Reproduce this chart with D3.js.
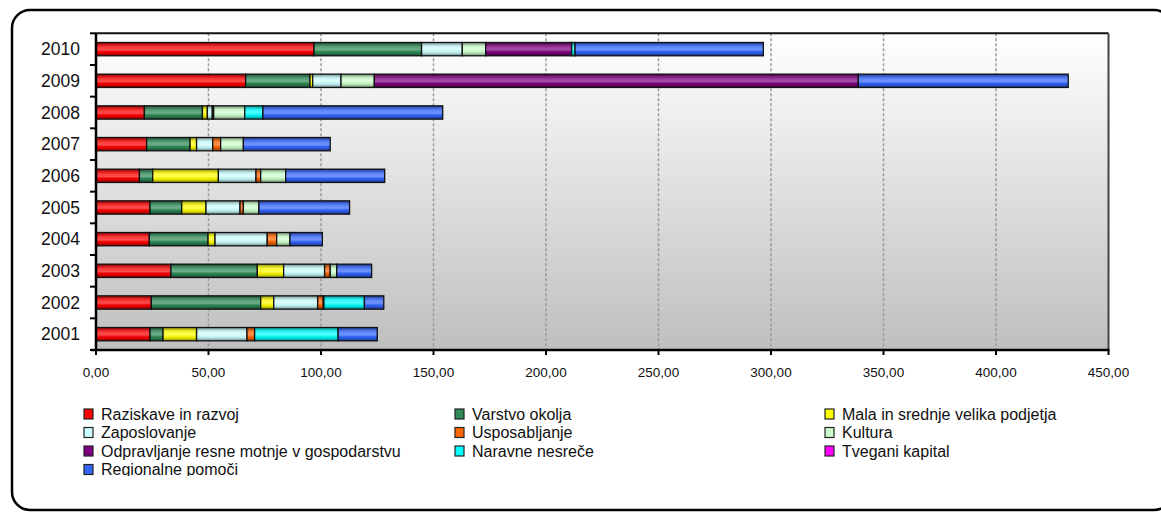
<!DOCTYPE html>
<html><head><meta charset="utf-8">
<script src="https://cdn.jsdelivr.net/npm/d3@7"></script>
<style>
html,body{margin:0;padding:0;background:#fff;}
svg{display:block;font-family:"Liberation Sans",Arial,sans-serif;}
</style></head>
<body>
<svg id="c" width="1161" height="512"></svg>
<script>
const years = ["2001","2002","2003","2004","2005","2006","2007","2008","2009","2010"];
const seriesNames = ["Raziskave in razvoj","Varstvo okolja","Mala in srednje velika podjetja","Zaposlovanje","Usposabljanje","Kultura","Odpravljanje resne motnje v gospodarstvu","Naravne nesreče","Tvegani kapital","Regionalne pomoči"];
const raziskave     = [24.0, 24.6, 33.3, 23.7, 24.0, 19.3, 22.5, 21.5, 66.5, 96.9];
const varstvo       = [5.8, 48.6, 38.4, 26.1, 14.1, 5.9, 19.3, 25.8, 28.6, 47.8];
const mala          = [14.9, 5.8, 11.7, 3.1, 10.8, 29.2, 2.9, 2.2, 1.2, 0];
const zaposlovanje  = [22.4, 19.5, 18.2, 23.2, 15.1, 16.7, 7.2, 2.2, 12.6, 18.1];
const usposabljanje = [3.4, 2.5, 2.5, 4.2, 1.5, 2.1, 3.5, 0.6, 0, 0];
const kultura       = [0, 0.3, 2.9, 5.9, 6.9, 11.1, 10.1, 13.8, 14.8, 10.4];
const odpravljanje  = [0, 0, 0, 0, 0, 0, 0, 0, 215.1, 38.2];
const naravne       = [37.1, 18.0, 0, 0, 0, 0, 0, 8.1, 0, 1.5];
const tvegani       = [0, 0, 0, 0, 0, 0, 0, 0, 0, 0];
const regionalne    = [17.4, 8.6, 15.5, 14.4, 40.3, 44.0, 38.6, 79.9, 93.3, 83.7];
const xTicks = [0,50,100,150,200,250,300,350,400,450];
const colors = ["#ff0000","#2e8b57","#ffff00","#ccffff","#ff6600","#ccffcc","#800080","#00ffff","#ff00ff","#3366ff"];

const seriesValues = [raziskave,varstvo,mala,zaposlovanje,usposabljanje,kultura,odpravljanje,naravne,tvegani,regionalne];
const table = years.map((yr,i)=>{const o={year:yr}; seriesNames.forEach((n,k)=>o[n]=seriesValues[k][i]); return o;});

const svg = d3.select("#c");
const defs = svg.append("defs");
const pL=96, pR=1108.5, pT=33.3, pB=350;

// outer frame
svg.append("rect").attr("x",12).attr("y",10).attr("width",1160).attr("height",500)
  .attr("rx",18).attr("fill","#fff").attr("stroke","#000").attr("stroke-width",2.5);

// plot bg gradient
const bg = defs.append("linearGradient").attr("id","bg").attr("x1",0).attr("y1",0).attr("x2",0).attr("y2",1);
bg.append("stop").attr("offset","0%").attr("stop-color","#ffffff");
bg.append("stop").attr("offset","100%").attr("stop-color","#bfbfbf");
svg.append("rect").attr("x",pL).attr("y",pT).attr("width",pR-pL).attr("height",pB-pT).attr("fill","url(#bg)");

const x = d3.scaleLinear().domain([0,450]).range([pL,pR]);
const y = d3.scaleBand().domain(years.slice().reverse()).range([pT,pB]).paddingInner(0.58).paddingOuter(0.29);

// grid
svg.append("g").selectAll("line").data(xTicks.filter(t=>t>0&&t<450)).join("line")
  .attr("x1",d=>x(d)).attr("x2",d=>x(d)).attr("y1",pT).attr("y2",pB)
  .attr("stroke","#9a9a9a").attr("stroke-width",1.5).attr("stroke-dasharray","3,2");

// borders top/right
svg.append("line").attr("x1",pL).attr("x2",pR).attr("y1",pT).attr("y2",pT).attr("stroke","#111").attr("stroke-width",2);
svg.append("line").attr("x1",pR).attr("x2",pR).attr("y1",pT).attr("y2",pB).attr("stroke","#444").attr("stroke-width",2);

// bar shading gradient overlay
const sh = defs.append("linearGradient").attr("id","shade").attr("x1",0).attr("y1",0).attr("x2",0).attr("y2",1);
[[0,0.45],[0.3,0.05],[0.5,0],[0.75,0.08],[1,0.45]].forEach(([o,a])=>sh.append("stop").attr("offset",o).attr("stop-color","#000").attr("stop-opacity",a));
const hl = defs.append("linearGradient").attr("id","hl").attr("x1",0).attr("y1",0).attr("x2",0).attr("y2",1);
[[0,0],[0.4,0.25],[0.55,0.3],[0.7,0]].forEach(([o,a])=>hl.append("stop").attr("offset",o).attr("stop-color","#fff").attr("stop-opacity",a));

const stack = d3.stack().keys(seriesNames);
const stacked = stack(table);
const bars = svg.append("g");
stacked.forEach((s,k)=>{
  const g = bars.append("g");
  const d = s.filter(p=>p[1]-p[0]>0);
  ["f","s","h"].forEach(cls=>{
    const r = g.selectAll("rect."+cls).data(d).join("rect").attr("class",cls)
      .attr("x",p=>x(p[0])).attr("width",p=>x(p[1])-x(p[0]))
      .attr("y",p=>y(p.data.year)).attr("height",y.bandwidth());
    if(cls==="f") r.attr("fill",colors[k]);
    if(cls==="s") r.attr("fill","url(#shade)");
    if(cls==="h") r.attr("fill","url(#hl)").attr("stroke","#111").attr("stroke-width",1.3);
  });
});

// left axis
const step = y.step();
svg.append("line").attr("x1",pL).attr("x2",pL).attr("y1",pT).attr("y2",pB+1).attr("stroke","#000").attr("stroke-width",2.5);
const bounds = d3.range(years.length+1).map(i=>pT + y.paddingOuter()*step - y.paddingInner()*step/2 + i*step);
svg.append("g").selectAll("line").data(bounds).join("line")
  .attr("x1",pL-6).attr("x2",pL).attr("y1",d=>d).attr("y2",d=>d).attr("stroke","#000").attr("stroke-width",2);
svg.append("g").selectAll("text").data(years).join("text")
  .attr("x",80).attr("y",d=>y(d)+y.bandwidth()/2).attr("dy","0.35em")
  .attr("text-anchor","end").attr("font-size","17.5px").attr("fill","#111").text(d=>d);

// bottom axis
svg.append("line").attr("x1",pL-5).attr("x2",pR+1).attr("y1",pB).attr("y2",pB).attr("stroke","#000").attr("stroke-width",2.5);
svg.append("g").selectAll("line").data(xTicks).join("line")
  .attr("x1",d=>x(d)).attr("x2",d=>x(d)).attr("y1",pB).attr("y2",pB+5).attr("stroke","#000").attr("stroke-width",2);
const fmt = v=>v.toFixed(2).replace(".",",");
svg.append("g").selectAll("text").data(xTicks).join("text")
  .attr("x",d=>x(d)).attr("y",372).attr("dy","0.35em").attr("text-anchor","middle")
  .attr("font-size","13.5px").attr("fill","#111").text(fmt);

// legend
defs.append("clipPath").attr("id","lc").append("rect").attr("x",0).attr("y",395).attr("width",1161).attr("height",81);
const lg = svg.append("g").attr("clip-path","url(#lc)");
const colX = [84,455,825];
const rowY = [414,432.5,451,469.5];
seriesNames.forEach((n,i)=>{
  const cx = colX[i%3], cy = rowY[Math.floor(i/3)];
  lg.append("rect").attr("x",cx).attr("y",cy-5).attr("width",9).attr("height",10)
    .attr("fill",colors[i]).attr("stroke","#222").attr("stroke-width",1.2);
  lg.append("text").attr("x",cx+17).attr("y",cy).attr("dy","0.36em")
    .attr("font-size","16px").attr("fill","#111").text(n);
});
</script>
</body></html>
